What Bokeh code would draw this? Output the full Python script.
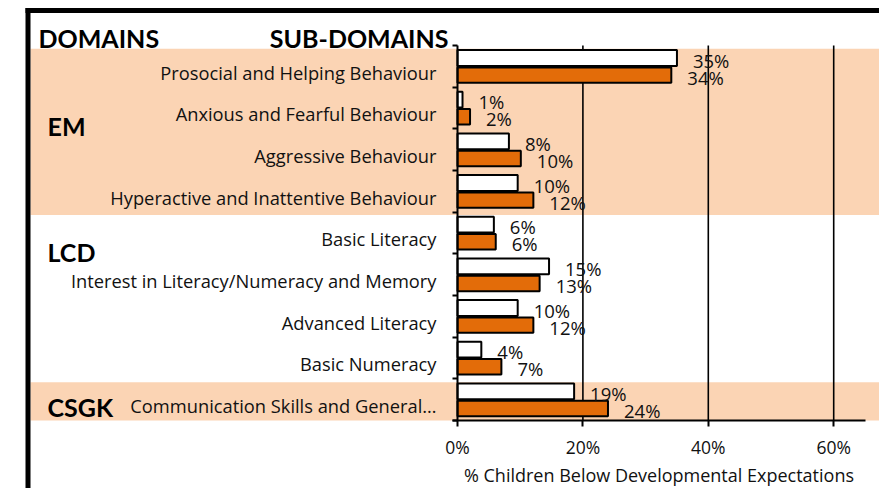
from bokeh.plotting import figure
from bokeh.models import Range1d, LinearAxis, FixedTicker, PrintfTickFormatter
from bokeh.core.properties import value
from bokeh.embed import file_html
from bokeh.resources import INLINE

# ---------------- data ----------------
sub_domains = [
    "Prosocial and Helping Behaviour",
    "Anxious and Fearful Behaviour",
    "Aggressive Behaviour",
    "Hyperactive and Inattentive Behaviour",
    "Basic Literacy",
    "Interest in Literacy/Numeracy and Memory",
    "Advanced Literacy",
    "Basic Numeracy",
    "Communication Skills and General\u2026",
]
series_white = [35.0, 0.8, 8.2, 9.6, 5.8, 14.6, 9.6, 3.8, 18.6]
series_orange = [34.1, 2.0, 10.1, 12.1, 6.1, 13.1, 12.1, 7.0, 24.0]
domains = ["EM", "LCD", "CSGK"]
domain_first = [0, 4, 8]
domain_count = [4, 4, 1]
domain_shaded = [True, False, True]
x_ticks = [0, 20, 40, 60]
x_title = "% Children Below Developmental Expectations"
header_left = "DOMAINS"
header_right = "SUB-DOMAINS"

# ---------------- layout ----------------
W, H = 879, 488
X0_PX, PX_PER_PCT = 457.0, 6.27
Y0_PX, PX_PER_ROW = 45.0, 41.67
FONT = "Open Sans"
BOLD_FONT = "Lato"
ORANGE = "#E36C09"
BAND = "#FBD4B4"
INK = "#111111"


def dx(px):
    return (px - X0_PX) / PX_PER_PCT


def dy(py):
    return (py - Y0_PX) / PX_PER_ROW


n = len(sub_domains)
rows = list(range(n))

p = figure(width=W, height=H, x_range=Range1d(dx(0), dx(W)), y_range=Range1d(dy(H), dy(0)),
           toolbar_location=None, output_backend="svg", min_border=0,
           x_axis_location=None, y_axis_location=None)
p.outline_line_color = None
p.background_fill_color = "white"
p.border_fill_color = "white"
p.xgrid.visible = False
p.ygrid.visible = False

# bands for domains
bt, bb = [], []
for f, c, s in zip(domain_first, domain_count, domain_shaded):
    if s:
        bt.append(f + 0.08)
        bb.append(min(f + c + 0.07, n))
p.quad(left=dx(30), right=dx(W), top=bt, bottom=bb, fill_color=BAND, line_color=None)

# vertical grid lines
gx = [t for t in x_ticks if t != 0]
p.segment(x0=gx, x1=gx, y0=[0] * len(gx), y1=[n] * len(gx), line_color="black", line_width=1.6)

# bars
yw = [r + 0.30 for r in rows]
yo = [r + 0.71 for r in rows]
p.hbar(y=yw, left=0, right=series_white, height=0.38, fill_color="white",
       line_color="black", line_width=2)
p.hbar(y=yo, left=0, right=series_orange, height=0.37, fill_color=ORANGE,
       line_color="black", line_width=2)

lab_w = ["%d%%" % round(v) for v in series_white]
lab_o = ["%d%%" % round(v) for v in series_orange]
for ys, xs, ls in ((yw, series_white, lab_w), (yo, series_orange, lab_o)):
    p.text(x=xs, y=ys, text=ls, x_offset=16, y_offset=2, text_align="left",
           text_baseline="middle", text_font=value(FONT), text_font_size="18.5px",
           text_color=INK)

# y axis (sub-domain labels)
centers = [r + 0.64 for r in rows]
yax = LinearAxis(fixed_location=0, bounds=(0, n),
                 ticker=FixedTicker(ticks=centers, minor_ticks=list(range(n + 1))))
yax.major_label_overrides = {c: s for c, s in zip(centers, sub_domains)}
yax.major_tick_out = 0
yax.major_tick_in = 0
yax.minor_tick_out = 5
yax.minor_tick_in = 0
yax.minor_tick_line_width = 2
yax.minor_tick_line_color = "black"
yax.axis_line_width = 2
yax.axis_line_color = "black"
yax.major_label_standoff = 16
yax.major_label_text_font = FONT
yax.major_label_text_font_size = "18.3px"
yax.major_label_text_color = INK
p.add_layout(yax, "left")

# x axis
xax = LinearAxis(fixed_location=n, bounds=(-0.8, 65), ticker=FixedTicker(ticks=x_ticks),
                 formatter=PrintfTickFormatter(format="%d%%"))
xax.axis_line_width = 2
xax.axis_line_color = "black"
xax.major_tick_out = 6
xax.major_tick_in = 0
xax.major_tick_line_width = 2
xax.major_tick_line_color = "black"
xax.minor_tick_out = 0
xax.minor_tick_in = 0
xax.major_label_standoff = 8
xax.major_label_text_font = FONT
xax.major_label_text_font_size = "17.5px"
xax.major_label_text_color = INK
xax.axis_label = x_title
xax.axis_label_standoff = 1
xax.axis_label_text_font = FONT
xax.axis_label_text_font_size = "18px"
xax.axis_label_text_font_style = "normal"
xax.axis_label_text_color = INK
p.add_layout(xax, "below")

# domain labels
dom_y = [dy(125), dy(251), dy(406)]
p.text(x=[dx(47)] * len(domains), y=dom_y, text=domains, text_align="left",
       text_baseline="middle", text_font=value(BOLD_FONT), text_font_style="bold",
       text_font_size="25px", text_color="black")

# headers
p.text(x=[dx(38)], y=[dy(37)], text=[header_left], text_align="left", text_baseline="middle",
       text_font=value(BOLD_FONT), text_font_style="bold", text_font_size="25px", text_color="black")
p.text(x=[dx(448)], y=[dy(37)], text=[header_right], text_align="right", text_baseline="middle",
       text_font=value(BOLD_FONT), text_font_style="bold", text_font_size="25px", text_color="black")

# outer border (top and left)
p.segment(x0=[dx(25), dx(27.5)], x1=[dx(W), dx(27.5)], y0=[dy(10), dy(7.5)],
          y1=[dy(10), dy(H)], line_color="black", line_width=5)

open("out.html", "w").write(file_html(p, INLINE))
